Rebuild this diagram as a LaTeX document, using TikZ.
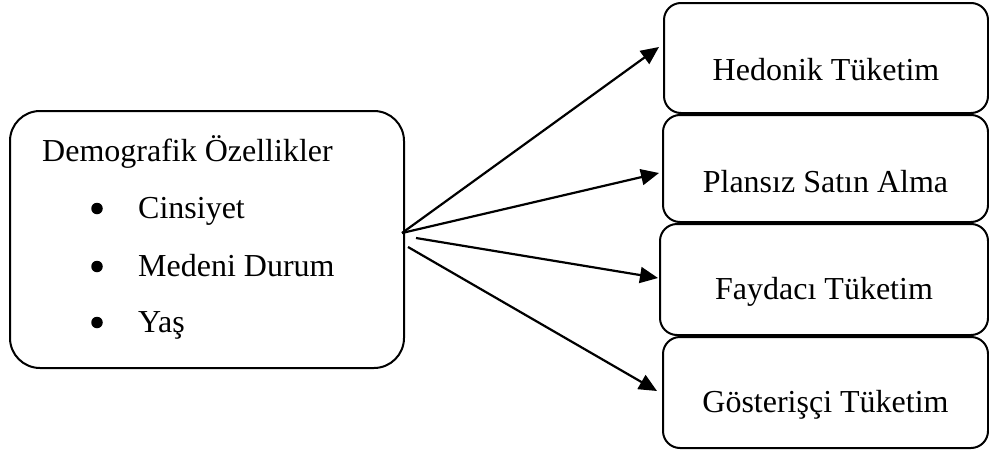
\documentclass[tikz,border=0pt]{standalone}
\usepackage{fontspec}
\setmainfont{Liberation Serif}
\usetikzlibrary{arrows.meta,calc}
\begin{document}
\begin{tikzpicture}[x=1pt,y=-1pt,
  every node/.style={font=\fontsize{32}{38}\selectfont},
  lbox/.style={draw,line width=2pt,rounded corners=30pt,minimum width=394pt,minimum height=257pt,inner sep=0pt},
  rbox/.style={draw,line width=2pt,rounded corners=17pt,inner sep=0pt},
  txt/.style={inner sep=0pt},
  bul/.style={circle,fill,inner sep=0pt,minimum size=11.5pt},
  arr/.style={line width=2.2pt,-{Triangle[length=18pt,width=16pt]}}]
\useasboundingbox (0,0) rectangle (989,450);
\node[lbox] (L) at (207,239.5) {};
\node[txt,anchor=base west] (t0) at (42,161.7) {Demografik Özellikler};
\node[bul] (b1) at (97,208.5) {};
\node[txt,anchor=base west] (t1) at (138,218) {Cinsiyet};
\node[bul] (b2) at (97,266.5) {};
\node[txt,anchor=base west] (t2) at (138,276.7) {Medeni Durum};
\node[bul] (b3) at (97,322.5) {};
\node[txt,anchor=base west] (t3) at (138,332.7) {Yaş};

\node[rbox,minimum width=324pt,minimum height=110pt] (h1) at (826,58) {};
\node[rbox,minimum width=325pt,minimum height=107pt] (h2) at (825.5,168.5) {};
\node[rbox,minimum width=328pt,minimum height=111pt] (h3) at (824,279.5) {};
\node[rbox,minimum width=325pt,minimum height=111pt] (h4) at (825.5,392.5) {};
\node[txt] (l1) at ($(h1.center)+(0,12)$) {Hedonik Tüketim};
\node[txt] (l2) at ($(h2.center)+(0,13)$) {Plansız Satın Alma};
\node[txt] (l3) at ($(h3.center)+(0,12)$) {Faydacı Tüketim};
\node[txt] (l4) at ($(h4.center)+(0,12)$) {Gösterişçi Tüketim};

\draw[arr] ($(L.east)+(-3,-6.5)$) -- ($(h1.west)+(-4,-11)$);
\draw[arr] ($(L.east)+(-3,-6.5)$) -- ($(h2.west)+(-3,4.5)$);
\draw[arr] ($(L.east)+(11,-1.5)$) -- ($(h3.west)+(-1,-1.5)$);
\draw[arr] ($(L.east)+(3,7.5)$) -- ($(h4.west)+(-5,-1.5)$);
\end{tikzpicture}
\end{document}
